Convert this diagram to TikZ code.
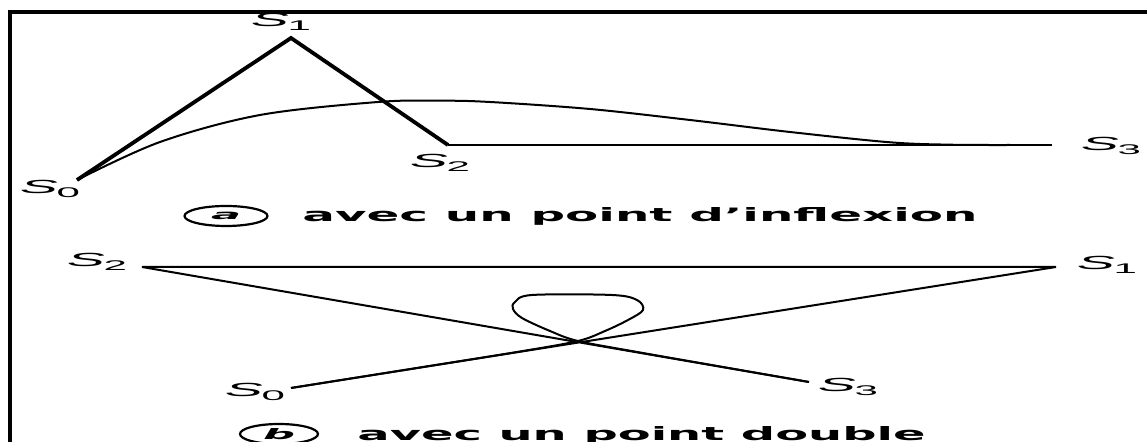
\documentclass[tikz,border=0pt]{standalone}
\usepackage{fontspec}
\setmainfont{Liberation Sans}
\newfontfamily\capfont{DejaVu Sans}
\usetikzlibrary{shapes.geometric}
\tikzset{
  thickline/.style={line width=1.9pt, line join=miter},
  thinline/.style={line width=1pt},
  curveline/.style={line width=1pt, smooth, tension=0.55},
  lbl/.style={inner sep=0pt},
  captext/.style={inner sep=0pt, anchor=base west},
  circ/.style={draw, ellipse, line width=1.1pt, inner sep=0pt},
  frame/.style={line width=1.8pt}
}
\newcommand\Slab[1]{\scalebox{3}[1]{\fontsize{9.5}{9.5}\selectfont\textit{S}\kern-0.2pt\raisebox{-0.4ex}{\fontsize{7}{7}\selectfont #1}}}
\newcommand\CapTxt[3]{\resizebox{#1}{#2}{\capfont\bfseries #3}}
\begin{document}
\begin{tikzpicture}[x=0.5pt,y=-0.5pt]
\useasboundingbox (0,0) rectangle (1147,442);
\fill[white] (0,0) rectangle (1147,442);
\draw[frame] (10,442) -- (10,12) -- (1147,12);
% ---------- (a)
\coordinate (a0) at (77,180);
\coordinate (a1) at (291,38);
\coordinate (a2) at (448,145);
\coordinate (a3) at (1052,145);
\node[lbl] (la0) at (50,189) {\Slab{0}};
\node[lbl] (la1) at (281,22) {\Slab{1}};
\node[lbl] (la2) at (440,163) {\Slab{2}};
\node[lbl] (la3) at (1111,146) {\Slab{3}};
\draw[thickline] (a0) -- (a1) -- (a2);
\draw[thinline] (a2) -- (a3);
\draw[curveline] plot coordinates {(77,180) (160,142) (260,115) (378,102) (440,100.7) (490,102) (590,109) (690,120) (790,132) (890,142.3) (950,144.7) (1010,145)};
\node[circ, minimum width=41.5pt, minimum height=10pt] (ca) at (226,216)
  {\resizebox{15pt}{3.7pt}{\capfont\bfseries\itshape a}};
\node[captext] (ta) at (302,222) {\CapTxt{337.5pt}{7pt}{avec un point d’inflexion}};
% ---------- (b)
\coordinate (b0) at (291,388);
\coordinate (b1) at (1056,267);
\coordinate (b2) at (142,267);
\coordinate (b3) at (809,382);
\node[lbl] (lb0) at (255,392) {\Slab{0}};
\node[lbl] (lb1) at (1107,265) {\Slab{1}};
\node[lbl] (lb2) at (97,262) {\Slab{2}};
\node[lbl] (lb3) at (848,387) {\Slab{3}};
\draw[thinline] (b0) -- (b1) -- (b2) -- (b3);
\draw[curveline] plot coordinates {(291,388) (420,367.5) (520,351.5) (578,341) (605,331) (628,320) (643,310) (637,300) (612,295) (532,295) (515,302) (513,309) (522,318) (550,331) (578,341) (640,352.5) (720,366.5) (809,382)};
\node[circ, minimum width=39pt, minimum height=10pt] (cb) at (279,434)
  {\resizebox{16pt}{5.5pt}{\capfont\bfseries\itshape b}};
\node[captext] (tb) at (357,441) {\CapTxt{284pt}{7pt}{avec un point double}};
\end{tikzpicture}
\end{document}
